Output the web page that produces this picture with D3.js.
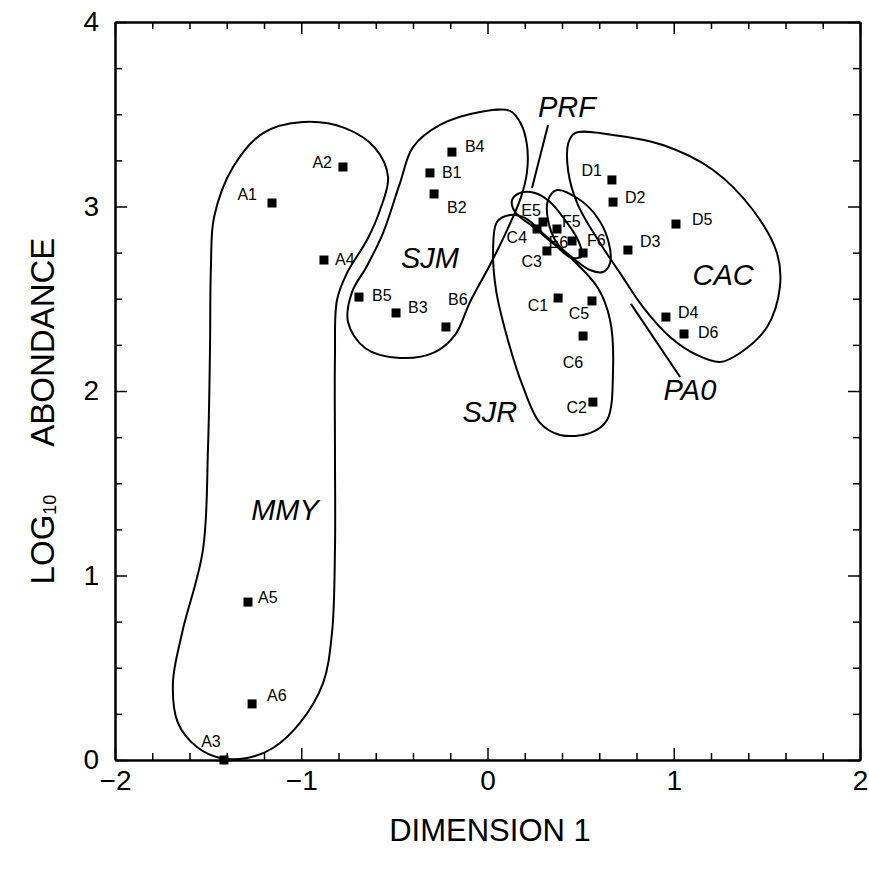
<!DOCTYPE html>
<html>
<head>
<meta charset="utf-8">
<script src="https://cdn.jsdelivr.net/npm/d3@7"></script>
<style>
body { margin: 0; background: #fff; }
svg text { font-family: "Liberation Sans", Arial, sans-serif; fill: #000; }
.axis path { stroke: #000; stroke-width: 2; }
.axis line { stroke: #000; stroke-width: 1.5; }
.axis text { font-size: 28px; }
.hull { fill: none; stroke: #000; stroke-width: 2; }
.site-label { font-size: 16px; }
.group-label { font-size: 29px; font-style: italic; }
.axis-title { font-size: 31px; }
</style>
</head>
<body>
<div id="chart"></div>
<script>
"use strict";

// sample sites
var siteNames = ["A1","A2","A3","A4","A5","A6",
                 "B1","B2","B3","B4","B5","B6",
                 "C1","C2","C3","C4","C5","C6",
                 "D1","D2","D3","D4","D5","D6",
                 "E5","E6","F5","F6"];
var siteDim1 = [-1.157,-0.776,-1.415,-0.878,-1.286,-1.264,
                -0.309,-0.287,-0.491,-0.191,-0.690,-0.223,
                 0.379, 0.566, 0.319, 0.266, 0.561, 0.513,
                 0.668, 0.674, 0.754, 0.958, 1.012, 1.055,
                 0.298, 0.454, 0.373, 0.513];
var siteLogAb = [3.019, 3.214, 0.000, 2.710, 0.856, 0.304,
                 3.182, 3.068, 2.423, 3.295, 2.509, 2.347,
                 2.504, 1.940, 2.759, 2.878, 2.488, 2.298,
                 3.144, 3.024, 2.764, 2.401, 2.905, 2.309,
                 2.916, 2.813, 2.878, 2.748];

// group outlines [dim1, log10 abundance]
var hullMMY = [[-1.205,3.398],[-0.991,3.458],[-0.765,3.425],[-0.604,3.317],[-0.534,3.160],
               [-0.577,2.981],[-0.647,2.818],[-0.754,2.640],[-0.808,2.493],[-0.819,2.184],
               [-0.819,1.680],[-0.819,1.138],[-0.835,0.688],[-0.883,0.417],[-1.007,0.201],
               [-1.152,0.065],[-1.291,0.011],[-1.436,0.011],[-1.560,0.070],[-1.662,0.201],
               [-1.689,0.417],[-1.640,0.688],[-1.528,1.138],[-1.501,1.680],[-1.490,2.222],
               [-1.485,2.672],[-1.468,2.943],[-1.366,3.214]];
var hullSJM = [[-0.400,3.322],[-0.255,3.442],[-0.040,3.512],[0.121,3.518],[0.180,3.447],
               [0.212,3.333],[0.212,3.187],[0.180,3.051],[0.110,2.883],[0.013,2.683],
               [-0.094,2.482],[-0.174,2.304],[-0.282,2.211],[-0.470,2.179],[-0.658,2.233],
               [-0.749,2.374],[-0.727,2.537],[-0.647,2.678],[-0.561,2.856],[-0.470,3.127]];
var hullSJR = [[0.051,2.916],[0.121,2.954],[0.201,2.938],[0.325,2.829],[0.470,2.699],
               [0.593,2.558],[0.658,2.385],[0.674,2.114],[0.642,1.843],[0.550,1.772],
               [0.389,1.762],[0.282,1.827],[0.191,2.022],[0.105,2.293],[0.046,2.547],
               [0.030,2.764]];
var hullPRF = [[0.132,3.035],[0.174,3.073],[0.255,3.073],[0.336,3.024],[0.416,2.927],
               [0.486,2.818],[0.507,2.732],[0.454,2.721],[0.362,2.791],[0.255,2.883],
               [0.148,2.970]];
var hullPA0 = [[0.373,3.089],[0.497,3.035],[0.588,2.943],[0.647,2.818],[0.658,2.694],
               [0.620,2.645],[0.550,2.656],[0.459,2.721],[0.373,2.802],[0.325,2.927],
               [0.325,3.035]];
var hullCAC = [[0.470,3.398],[0.674,3.388],[0.942,3.333],[1.211,3.198],[1.425,2.981],
               [1.554,2.748],[1.570,2.564],[1.501,2.347],[1.356,2.206],[1.248,2.157],
               [1.125,2.195],[0.980,2.293],[0.835,2.455],[0.711,2.640],[0.604,2.802],
               [0.486,3.008],[0.434,3.187],[0.434,3.344]];

var groupNames = ["MMY","SJM","SJR","PRF","CAC","PA0"];
var groupDim1 = [-1.087,-0.309, 0.013, 0.427, 1.265, 1.087];
var groupLogAb = [1.355, 2.721, 1.886, 3.539, 2.629, 2.005];

// pointer lines for PRF and PA0 labels
var leaders = [[[0.325,3.442],[0.239,3.100]],
               [[0.770,2.472],[1.034,2.076]]];

var xMajor = [-2,-1,0,1,2];
var yMajor = [0,1,2,3,4];
var xMinor = [-1.8,-1.6,-1.4,-1.2,-0.8,-0.6,-0.4,-0.2,0.2,0.4,0.6,0.8,1.2,1.4,1.6,1.8];
var yMinor = [0.25,0.5,0.75,1.25,1.5,1.75,2.25,2.5,2.75,3.25,3.5,3.75];

// label placement next to each square: dx, dy, anchor
var labelPlace = {
    A1:[-15,-8,"end"], A2:[-11,-5,"end"], A3:[-13,-19,"middle"], A4:[11,-1,"start"],
    A5:[10,-5,"start"], A6:[15,-8,"start"],
    B1:[12,0,"start"], B2:[13,14,"start"], B3:[12,-5,"start"], B4:[13,-6,"start"],
    B5:[13,-2,"start"], B6:[2,-27,"start"],
    C1:[-10,7,"end"], C2:[-6,5,"end"], C3:[-5,11,"end"], C4:[-10,8,"end"],
    C5:[-13,13,"middle"], C6:[-10,26,"middle"],
    D1:[-10,-9,"end"], D2:[12,-5,"start"], D3:[12,-9,"start"], D4:[12,-5,"start"],
    D5:[16,-5,"start"], D6:[14,-1,"start"],
    E5:[-12,-11,"middle"], E6:[-4,1,"end"], F5:[5,-8,"start"], F6:[4,-12,"start"]
};

var width = 869, height = 876;

var svg = d3.select("#chart")
    .append("svg")
    .attr("width", width)
    .attr("height", height);

var xScale = d3.scaleLinear().domain([-2, 2]).range([115, 860]);
var yScale = d3.scaleLinear().domain([0, 4]).range([760, 22]);

// ticks point inwards on all four sides
function addAxis(axisFn, scale, values, size, tx, ty, labels) {
    var ax = axisFn(scale)
        .tickValues(values)
        .tickSizeInner(-size)
        .tickSizeOuter(0)
        .tickPadding(labels ? 10 : 0)
        .tickFormat(labels ? function(d){ return d < 0 ? "\u2212" + (-d) : d; } : "");
    var g = svg.append("g")
        .attr("class", "axis")
        .attr("transform", "translate(" + tx + "," + ty + ")")
        .call(ax);
    return g;
}

addAxis(d3.axisBottom, xScale, xMajor, 12, 0, yScale(0), true);
addAxis(d3.axisBottom, xScale, xMinor, 7, 0, yScale(0), false);
addAxis(d3.axisTop, xScale, xMajor, 12, 0, yScale(4), false);
addAxis(d3.axisTop, xScale, xMinor, 7, 0, yScale(4), false);
var yl = addAxis(d3.axisLeft, yScale, yMajor, 12, xScale(-2), 0, true);
yl.selectAll("text").attr("x", -16);
addAxis(d3.axisLeft, yScale, yMinor, 7, xScale(-2), 0, false);
addAxis(d3.axisRight, yScale, yMajor, 12, xScale(2), 0, false);
addAxis(d3.axisRight, yScale, yMinor, 7, xScale(2), 0, false);

// group outlines
var hullLine = d3.line()
    .x(function(d){ return xScale(d[0]); })
    .y(function(d){ return yScale(d[1]); })
    .curve(d3.curveCatmullRomClosed.alpha(0.5));

[hullMMY, hullSJM, hullSJR, hullPRF, hullPA0, hullCAC].forEach(function(h){
    svg.append("path")
        .attr("class", "hull")
        .attr("d", hullLine(h));
});

leaders.forEach(function(l){
    svg.append("line")
        .attr("x1", xScale(l[0][0]))
        .attr("y1", yScale(l[0][1]))
        .attr("x2", xScale(l[1][0]))
        .attr("y2", yScale(l[1][1]))
        .style("stroke", "#000")
        .style("stroke-width", 2);
});

// squares
var s = 9;
svg.selectAll("rect.site")
    .data(siteNames)
    .enter()
    .append("rect")
    .attr("class", "site")
    .attr("x", function(d, i){ return xScale(siteDim1[i]) - s / 2; })
    .attr("y", function(d, i){ return yScale(siteLogAb[i]) - s / 2; })
    .attr("width", s)
    .attr("height", s)
    .style("fill", "#000");

svg.selectAll("text.site-label")
    .data(siteNames)
    .enter()
    .append("text")
    .attr("class", "site-label")
    .attr("x", function(d, i){ return xScale(siteDim1[i]) + labelPlace[d][0]; })
    .attr("y", function(d, i){ return yScale(siteLogAb[i]) + labelPlace[d][1]; })
    .attr("dominant-baseline", "central")
    .attr("text-anchor", function(d){ return labelPlace[d][2]; })
    .text(function(d){ return d; });

svg.selectAll("text.group-label")
    .data(groupNames)
    .enter()
    .append("text")
    .attr("class", "group-label")
    .attr("x", function(d, i){ return xScale(groupDim1[i]); })
    .attr("y", function(d, i){ return yScale(groupLogAb[i]); })
    .attr("dominant-baseline", "central")
    .attr("text-anchor", "middle")
    .text(function(d){ return d; });

// axis titles
svg.append("text")
    .attr("class", "axis-title")
    .attr("x", 490)
    .attr("y", 830)
    .attr("dominant-baseline", "central")
    .attr("text-anchor", "middle")
    .text("DIMENSION 1");

var yt = svg.append("text")
    .attr("class", "axis-title")
    .style("font-size", "33px")
    .attr("transform", "translate(42,411) rotate(-90)")
    .attr("dominant-baseline", "central")
    .attr("text-anchor", "middle");
yt.append("tspan").text("LOG");
yt.append("tspan").attr("dy", 8).style("font-size", "18px").text("10");
yt.append("tspan").attr("dy", -8).attr("dx", 48).text("ABONDANCE");
</script>
</body>
</html>
